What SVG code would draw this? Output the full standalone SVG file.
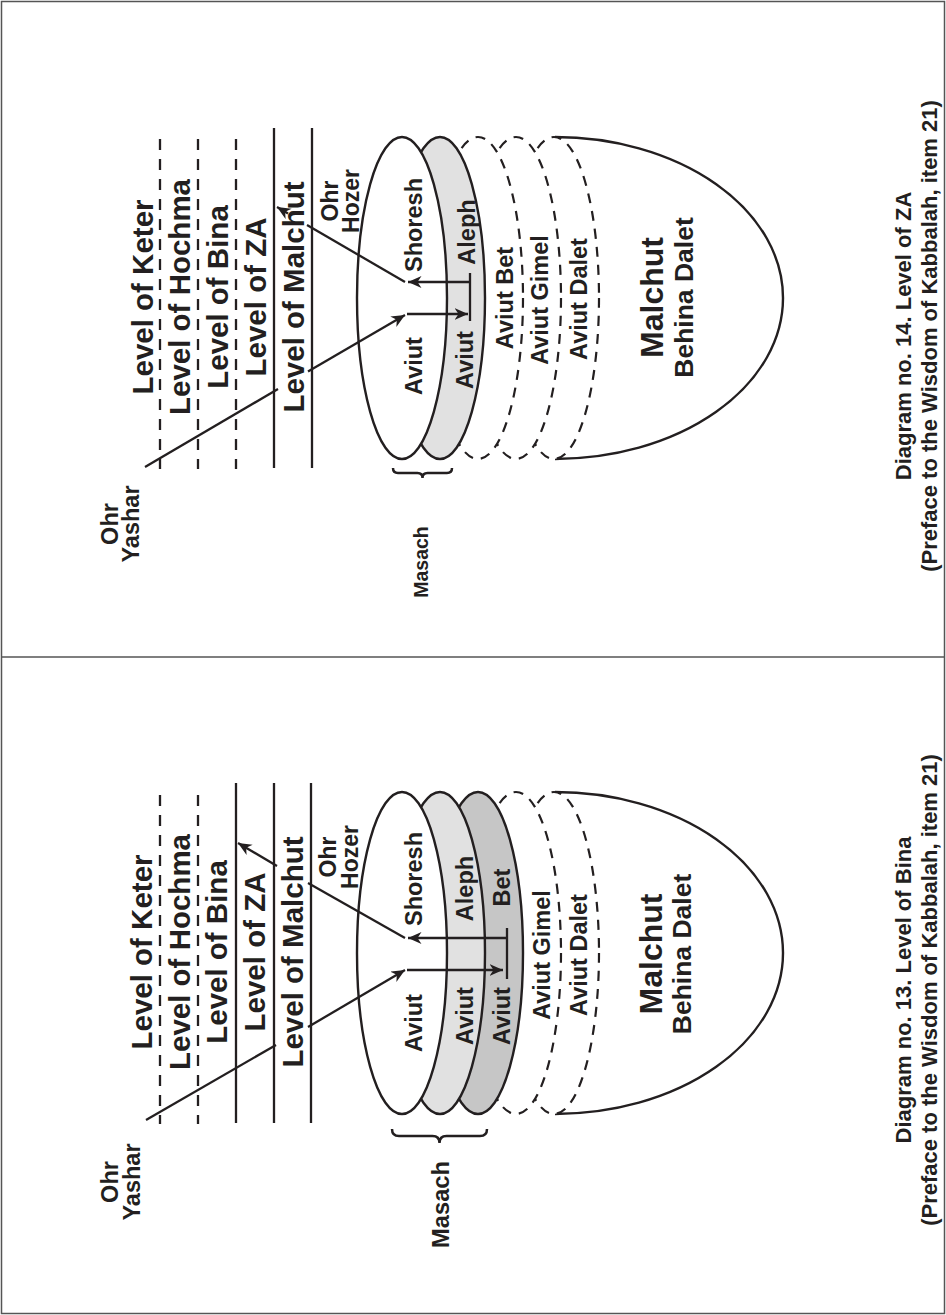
<svg xmlns="http://www.w3.org/2000/svg" width="946" height="1315" viewBox="0 0 946 1315">
<style>
text{font-family:"Liberation Sans",Arial,Helvetica,sans-serif;font-weight:bold;fill:#231f20;text-anchor:middle}
.lvl{font-size:29.5px}
.in{font-size:23.5px}
.lab{font-size:23px}
.cap{font-size:22px}
.ln{stroke:#231f20;stroke-width:2.3;fill:none}
.dl{stroke:#231f20;stroke-width:2.3;fill:none;stroke-dasharray:11 9}
.el{stroke:#231f20;stroke-width:2.4}
.de{stroke:#231f20;stroke-width:2.2;stroke-dasharray:10 8;fill:#fff}
.ar{stroke:#231f20;stroke-width:2.3;fill:none;marker-end:url(#ah)}
.br{stroke:#231f20;stroke-width:2.5;fill:none}
</style>
<defs>
<marker id="ah" markerUnits="userSpaceOnUse" markerWidth="15" markerHeight="13" refX="13.5" refY="6" orient="auto">
<path d="M0,0 L13.5,6 L0,12 L4,6 z" fill="#231f20"/>
</marker>
</defs>
<rect x="1.5" y="1.5" width="943" height="1312" fill="#fff" stroke="#555" stroke-width="1.5"/>
<line x1="1.5" y1="657" x2="944.5" y2="657" stroke="#555" stroke-width="1.5"/>

<!-- TOP PANEL: Diagram 14 -->
<g id="panel14">
 <g id="p14-malchut">
  <path d="M555,137 A228,161 0 0 1 555,459" fill="#fff" stroke="#231f20" stroke-width="2.4"/>
  <text transform="translate(663,297.5) rotate(-90)" style="font-size:32px">Malchut</text>
  <text transform="translate(693,297.5) rotate(-90)" style="font-size:26.5px">Behina Dalet</text>
 </g>
 <g id="p14-dalet"><ellipse class="de" cx="554" cy="298" rx="45" ry="161"/><text class="in" transform="translate(587,299) rotate(-90)">Aviut Dalet</text></g>
 <g id="p14-gimel"><ellipse class="de" cx="516" cy="298" rx="45" ry="161"/><text class="in" transform="translate(548,300) rotate(-90)">Aviut Gimel</text></g>
 <g id="p14-bet"><ellipse class="de" cx="478" cy="298" rx="45" ry="161"/><text class="in" transform="translate(513,298) rotate(-90)">Aviut Bet</text></g>
 <g id="p14-aleph"><ellipse class="el" cx="440" cy="298" rx="45" ry="161" fill="#e1e1e1"/>
  <text class="in" transform="translate(475,232) rotate(-90)">Aleph</text>
  <text class="in" transform="translate(473,360) rotate(-90)">Aviut</text></g>
 <g id="p14-shoresh"><ellipse class="el" cx="402" cy="298" rx="45" ry="161" fill="#fff"/>
  <text class="in" transform="translate(422,225) rotate(-90)">Shoresh</text>
  <text class="in" transform="translate(422,366) rotate(-90)">Aviut</text></g>
 <g id="p14-levels">
  <line class="dl" x1="160" y1="139" x2="160" y2="469"/>
  <line class="dl" x1="198" y1="139" x2="198" y2="469"/>
  <line class="dl" x1="236" y1="139" x2="236" y2="469"/>
  <line class="ln" x1="274" y1="128" x2="274" y2="468"/>
  <line class="ln" x1="312" y1="128" x2="312" y2="468"/>
  <text class="lvl" transform="translate(153,297) rotate(-90)">Level of Keter</text>
  <text class="lvl" transform="translate(190,297) rotate(-90)">Level of Hochma</text>
  <text class="lvl" transform="translate(228,297) rotate(-90)">Level of Bina</text>
  <text class="lvl" transform="translate(266,297) rotate(-90)">Level of ZA</text>
  <text class="lvl" transform="translate(304,297) rotate(-90)">Level of Malchut</text>
 </g>
 <g id="p14-ohryashar"><text class="in" transform="translate(118,524) rotate(-90)">Ohr</text><text class="in" transform="translate(139,524) rotate(-90)">Yashar</text></g>
 <g id="p14-ohrhozer"><text class="lab" transform="translate(338,201) rotate(-90)">Ohr</text><text class="lab" transform="translate(359,201) rotate(-90)">Hozer</text></g>
 <g id="p14-masach">
  <path class="br" d="M393,468 Q393,473 398,473 L417.5,473 Q422.5,473 422.5,478 Q422.5,473 427.5,473 L447,473 Q452,473 452,468"/>
  <text transform="translate(428,562) rotate(-90)" style="font-size:19.5px">Masach</text>
 </g>
 <g id="p14-caption">
  <text class="cap" transform="translate(911,336) rotate(-90)">Diagram no. 14. Level of ZA</text>
  <text class="cap" transform="translate(937,336) rotate(-90)">(Preface to the Wisdom of Kabbalah, item 21)</text>
 </g>
 <g id="p14-connectors">
  <line class="ln" x1="145" y1="467" x2="278" y2="389"/>
  <line class="ar" x1="308" y1="371.5" x2="405" y2="315"/>
  <line class="ar" x1="407" y1="314" x2="468" y2="314"/>
  <line class="ln" x1="470" y1="273" x2="470" y2="321"/>
  <line class="ar" x1="470" y1="282" x2="408" y2="282"/>
  <line class="ln" x1="405" y1="282" x2="307" y2="225"/>
  <line class="ar" x1="288" y1="213.5" x2="277" y2="207"/>
 </g>
</g>

<!-- BOTTOM PANEL: Diagram 13 -->
<g id="panel13" transform="translate(0,655)">
 <g id="p13-malchut">
  <path d="M555,137 A228,161 0 0 1 555,459" fill="#fff" stroke="#231f20" stroke-width="2.4"/>
  <text transform="translate(662,299) rotate(-90)" style="font-size:32px">Malchut</text>
  <text transform="translate(691,299) rotate(-90)" style="font-size:26.5px">Behina Dalet</text>
 </g>
 <g id="p13-dalet"><ellipse class="de" cx="554" cy="298" rx="45" ry="161"/><text class="in" transform="translate(587,300) rotate(-90)">Aviut Dalet</text></g>
 <g id="p13-gimel"><ellipse class="de" cx="516" cy="298" rx="45" ry="161"/><text class="in" transform="translate(550,300) rotate(-90)">Aviut Gimel</text></g>
 <g id="p13-bet"><ellipse class="el" cx="478" cy="298" rx="45" ry="161" fill="#c6c6c6"/>
  <text class="in" transform="translate(510,232.5) rotate(-90)">Bet</text>
  <text class="in" transform="translate(510,361) rotate(-90)">Aviut</text></g>
 <g id="p13-aleph"><ellipse class="el" cx="440" cy="298" rx="45" ry="161" fill="#e1e1e1"/>
  <text class="in" transform="translate(473,233.5) rotate(-90)">Aleph</text>
  <text class="in" transform="translate(473,361) rotate(-90)">Aviut</text></g>
 <g id="p13-shoresh"><ellipse class="el" cx="402" cy="298" rx="45" ry="161" fill="#fff"/>
  <text class="in" transform="translate(422,224) rotate(-90)">Shoresh</text>
  <text class="in" transform="translate(422,368) rotate(-90)">Aviut</text></g>
 <g id="p13-levels">
  <line class="dl" x1="160" y1="140" x2="160" y2="469"/>
  <line class="dl" x1="198" y1="140" x2="198" y2="469"/>
  <line class="ln" x1="236" y1="128" x2="236" y2="468"/>
  <line class="ln" x1="274" y1="128" x2="274" y2="468"/>
  <line class="ln" x1="311" y1="128" x2="311" y2="468"/>
  <text class="lvl" transform="translate(152,297) rotate(-90)">Level of Keter</text>
  <text class="lvl" transform="translate(190,297) rotate(-90)">Level of Hochma</text>
  <text class="lvl" transform="translate(227,297) rotate(-90)">Level of Bina</text>
  <text class="lvl" transform="translate(265,297) rotate(-90)">Level of ZA</text>
  <text class="lvl" transform="translate(303,297) rotate(-90)">Level of Malchut</text>
 </g>
 <g id="p13-ohryashar"><text class="in" transform="translate(118,527) rotate(-90)">Ohr</text><text class="in" transform="translate(140,527) rotate(-90)">Yashar</text></g>
 <g id="p13-ohrhozer"><text class="lab" transform="translate(336,202) rotate(-90)">Ohr</text><text class="lab" transform="translate(358,202) rotate(-90)">Hozer</text></g>
 <g id="p13-masach">
  <path class="br" d="M392,474 Q392,481 399,481 L432.5,481 Q439.5,481 439.5,488 Q439.5,481 446.5,481 L480,481 Q487,481 487,474"/>
  <text transform="translate(449,549.5) rotate(-90)" style="font-size:23.7px">Masach</text>
 </g>
 <g id="p13-caption">
  <text class="cap" transform="translate(911,335) rotate(-90)">Diagram no. 13. Level of Bina</text>
  <text class="cap" transform="translate(937,335) rotate(-90)">(Preface to the Wisdom of Kabbalah, item 21)</text>
 </g>
 <g id="p13-connectors">
  <line class="ln" x1="146" y1="465" x2="276" y2="390"/>
  <line class="ar" x1="308" y1="372" x2="405" y2="315"/>
  <line class="ar" x1="407" y1="315" x2="503" y2="315"/>
  <line class="ln" x1="507" y1="273" x2="507" y2="324"/>
  <line class="ar" x1="507" y1="283" x2="408" y2="283"/>
  <line class="ln" x1="405" y1="283" x2="308" y2="228"/>
  <line class="ar" x1="277" y1="211" x2="238" y2="188"/>
 </g>
</g>
</svg>
